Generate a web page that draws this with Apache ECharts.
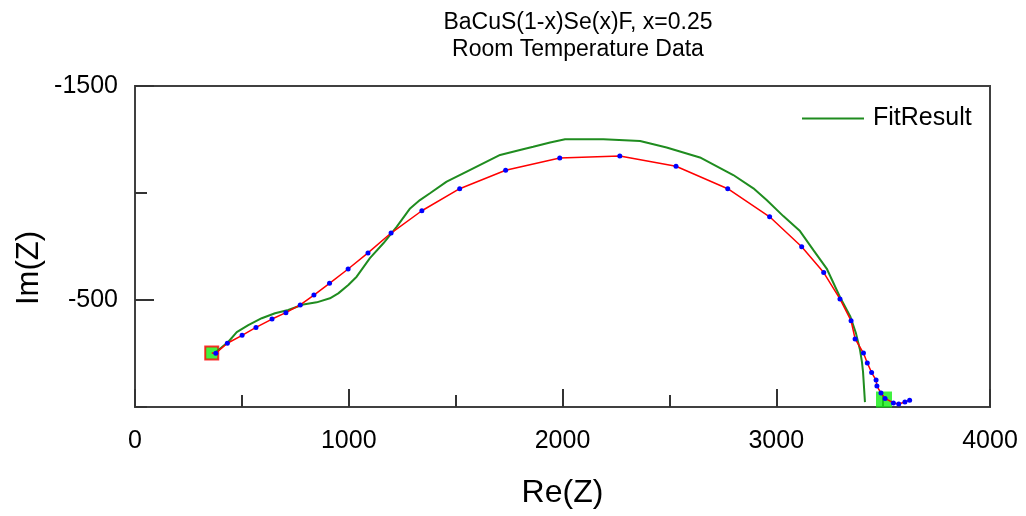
<!DOCTYPE html>
<html>
<head>
<meta charset="utf-8">
<script src="https://cdn.jsdelivr.net/npm/echarts@6/dist/echarts.min.js"></script>
<style>
html,body{margin:0;padding:0;background:#fff;}
#chart{width:1026px;height:516px;}
</style>
</head>
<body>
<div id="chart"></div>
<script>
// Measured impedance data (Re(Z), Im(Z))
var dataRe = [359, 378, 432, 501, 566, 641, 706, 773, 837, 910, 997, 1090, 1198, 1342, 1519, 1734, 1987, 2268, 2531, 2773, 2969, 3119, 3222, 3298, 3350, 3369, 3408, 3426, 3446, 3467, 3471, 3490, 3509, 3548, 3573, 3602, 3624];
var dataIm = [-252, -251, -298, -335, -372, -411, -441, -477, -523, -578, -645, -720, -813, -917, -1020, -1106, -1164, -1173, -1125, -1020, -889, -749, -628, -505, -403, -318, -252, -206, -161, -126, -98, -65, -40, -19, -14, -23, -31];
// Fit result curve
var fitRe = [379, 437, 476, 530, 593, 655, 717, 787, 850, 912, 951, 998, 1037, 1099, 1162, 1224, 1287, 1333, 1380, 1458, 1552, 1708, 1801, 1863, 1942, 2012, 2191, 2363, 2487, 2643, 2799, 2893, 2955, 3033, 3111, 3173, 3236, 3298, 3347, 3373, 3392, 3401, 3406, 3415, 3415];
var fitIm = [-257, -305, -350, -383, -415, -438, -453, -479, -489, -508, -531, -570, -609, -696, -765, -842, -928, -967, -999, -1053, -1100, -1178, -1201, -1216, -1236, -1251, -1251, -1243, -1213, -1166, -1084, -1022, -967, -892, -822, -734, -647, -514, -422, -344, -266, -210, -164, -159, -23];
// Start / end markers
var startPoint = [359, -252];
var endPoint = [3504, -35];
// Axis ticks
var xTicks = [0, 1000, 2000, 3000, 4000];
var yMajorTicks = [-1500, -500];
var yMinorTicks = [-1000, 0];
var titleLines = ['BaCuS(1-x)Se(x)F, x=0.25', 'Room Temperature Data'];

var FONT = 'Liberation Sans, Arial, sans-serif';

var dataPts = dataRe.map(function (x, i) {
  var p = { value: [x, dataIm[i]] };
  if (i === 0) p.symbolSize = 0;
  return p;
});
var fitPts = fitRe.map(function (x, i) { return [x, fitIm[i]]; });
function plain(v) { return String(v); }

var chart = echarts.init(document.getElementById('chart'), null, { renderer: 'canvas' });
var option = {
  animation: false,
  backgroundColor: '#ffffff',
  textStyle: { fontFamily: FONT },
  grid: {
    left: 135, right: 36, top: 86, bottom: 109,
    containLabel: false, outerBoundsMode: 'none',
    show: true, borderColor: '#404040', borderWidth: 2, backgroundColor: 'transparent'
  },
  graphic: [
    { type: 'text', x: 578, y: 23, style: { text: titleLines[0], font: '23px ' + FONT, fill: '#000', textAlign: 'center', textVerticalAlign: 'middle' } },
    { type: 'text', x: 578, y: 50, style: { text: titleLines[1], font: '23px ' + FONT, fill: '#000', textAlign: 'center', textVerticalAlign: 'middle' } },
    { type: 'text', x: 29, y: 268, rotation: Math.PI / 2, style: { text: 'Im(Z)', font: '31px ' + FONT, fill: '#000', textAlign: 'center', textVerticalAlign: 'middle' } }
  ],
  legend: {
    left: 797, top: 100,
    data: [{ name: 'FitResult', icon: 'rect' }],
    itemWidth: 62, itemHeight: 2,
    textStyle: { fontSize: 25, color: '#000', fontFamily: FONT, padding: [0, 0, 0, 4], lineHeight: 27 }
  },
  xAxis: {
    type: 'value', min: 0, max: 4000, interval: 1000,
    name: 'Re(Z)', nameLocation: 'middle', nameGap: 70,
    nameTextStyle: { fontSize: 32, color: '#000', fontFamily: FONT },
    axisLine: { show: false },
    axisTick: { show: true, inside: true, length: 18, lineStyle: { color: '#333', width: 2 } },
    minorTick: { show: true, splitNumber: 2, length: 12, lineStyle: { color: '#333', width: 2 } },
    splitLine: { show: false },
    axisLabel: { fontSize: 25, color: '#000', margin: 22, fontFamily: FONT, customValues: xTicks, formatter: plain }
  },
  yAxis: [
    {
      type: 'value', min: -1500, max: 0, interval: 500, inverse: true,
      axisLine: { show: false },
      axisTick: { show: true, inside: true, length: 19, customValues: yMajorTicks, lineStyle: { color: '#333', width: 2 } },
      splitLine: { show: false },
      axisLabel: { fontSize: 25, color: '#000', margin: 17, fontFamily: FONT, customValues: yMajorTicks, formatter: plain }
    },
    {
      type: 'value', min: -1500, max: 0, interval: 500, inverse: true, position: 'left',
      axisLine: { show: false },
      axisTick: { show: true, inside: true, length: 12, customValues: yMinorTicks, lineStyle: { color: '#333', width: 2 } },
      splitLine: { show: false },
      axisLabel: { show: false }
    }
  ],
  series: [
    {
      name: 'start', type: 'scatter', data: [startPoint], symbol: 'rect', symbolSize: 13, z: 1,
      itemStyle: { color: '#11ee11', borderColor: '#ff0000', borderWidth: 2 }
    },
    {
      name: 'end', type: 'scatter', data: [endPoint], symbol: 'rect', symbolSize: 16, z: 1,
      itemStyle: { color: '#11ee11' }
    },
    {
      name: 'FitResult', type: 'line', data: fitPts, showSymbol: false, z: 2,
      lineStyle: { color: '#1f8c1f', width: 2 }, itemStyle: { color: '#1f8c1f' }
    },
    {
      name: 'Data', type: 'line', data: dataPts, symbol: 'circle', symbolSize: 5, showAllSymbol: true, z: 3,
      lineStyle: { color: '#ff0000', width: 1.5 }, itemStyle: { color: '#0000ff', borderWidth: 0 }
    }
  ]
};
chart.setOption(option);
</script>
</body>
</html>
